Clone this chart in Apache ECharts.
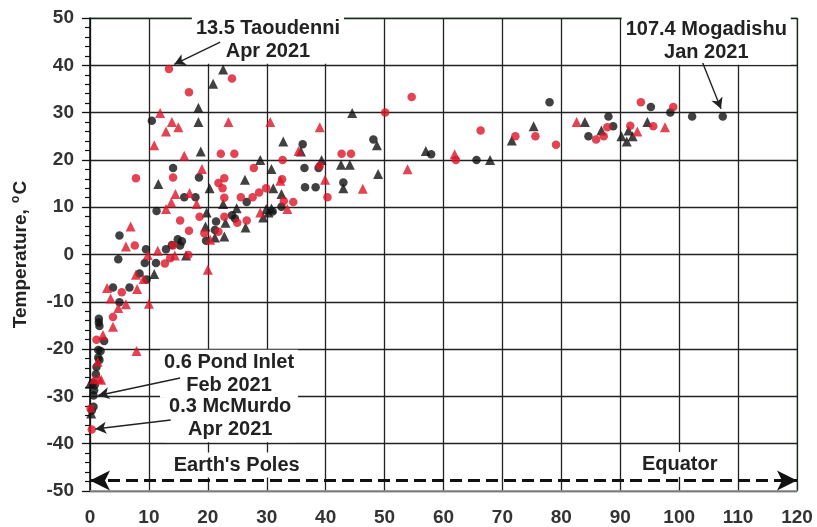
<!DOCTYPE html>
<html>
<head>
<meta charset="utf-8">
<script src="https://cdn.jsdelivr.net/npm/echarts@6/dist/echarts.min.js"></script>
<style>
html,body{margin:0;padding:0;background:#fff;}
#c{width:817px;height:527px;}
</style>
</head>
<body>
<div id="c"></div>
<script>
// ---- data (latitude offset, temperature) ----
const blackCircles = [
  [10.5,28.3],[36.1,23.3],[38.8,18.3],[36.4,18.3],[36.5,14.2],[38.3,14.2],[43.0,15.2],
  [14.1,18.3],[18.5,16.3],[26.6,11.1],[32.5,10.1],[16.0,12.1],[17.9,12.1],[11.3,9.2],
  [24.1,8.3],[24.6,7.6],[31.0,9.1],[21.4,7.0],[21.2,5.2],[19.7,2.9],[5.0,4.0],[9.5,1.1],
  [12.9,1.1],[13.9,2.0],[14.9,3.2],[15.3,1.9],[15.6,2.8],[4.8,-1.0],[9.3,-1.8],[11.2,-1.8],
  [8.4,-4.0],[9.6,-5.3],[3.9,-7.0],[6.7,-7.0],[5.0,-10.1],[1.5,-13.6],[1.5,-14.4],[1.6,-15.1],
  [2.4,-18.3],[1.4,-20.2],[1.8,-20.4],[1.4,-21.8],[1.6,-22.3],[1.1,-23.8],[1.0,-25.3],
  [0.5,-27.1],[0.8,-27.6],[0.7,-28.7],[0.6,-29.8],[0.6,-32.2],[0.3,-33.0],
  [48.1,24.3],[57.9,21.2],[65.6,20.0],[78.0,32.2],[84.6,25.0],[88.0,29.2],[88.8,27.1],
  [95.2,31.2],[98.5,30.0],[102.2,29.2],[107.4,29.2]
];
const blackTriangles = [
  [22.6,39.1],[20.9,36.1],[18.4,31.0],[18.4,28.0],[44.5,29.9],[32.8,23.9],[35.8,21.8],
  [18.8,21.8],[28.9,20.0],[39.3,20.0],[42.6,19.0],[44.1,19.0],[43.0,14.0],[11.6,14.9],
  [20.3,14.0],[26.3,15.8],[30.8,18.1],[31.1,14.0],[32.5,12.8],[19.8,8.9],[22.6,10.7],
  [24.9,9.8],[29.9,9.6],[30.8,9.7],[29.4,7.8],[30.3,8.9],[26.4,5.7],[23.0,6.7],[19.6,5.9],
  [21.2,3.6],[22.8,3.8],[16.3,-0.2],[10.9,-4.1],[0.0,-27.3],[0.2,-33.6],
  [48.9,17.0],[48.7,23.1],[57.0,21.9],[67.9,20.0],[71.6,24.1],[75.3,27.1],[84.0,28.0],
  [86.8,26.2],[90.2,25.0],[91.1,23.9],[91.4,26.2],[92.1,25.0],[94.6,28.0]
];
const redCircles = [
  [13.4,39.2],[24.1,37.2],[16.8,34.3],[22.2,21.3],[24.5,21.3],[32.7,20.0],[39.0,18.7],
  [42.7,21.3],[44.3,21.3],[14.1,16.3],[7.8,16.1],[22.8,16.1],[21.8,15.1],[22.5,14.0],
  [27.8,18.3],[32.6,15.9],[29.9,14.0],[28.7,13.1],[27.6,12.1],[25.6,12.1],[22.8,12.0],
  [32.9,11.3],[34.5,11.1],[40.3,12.1],[18.6,8.0],[22.8,8.0],[15.3,7.2],[25.0,6.7],[26.6,7.2],
  [19.4,4.5],[16.8,5.0],[21.8,4.8],[7.6,1.9],[14.1,1.9],[12.7,-1.9],[16.7,-0.1],[13.6,-0.8],
  [5.4,-8.0],[3.9,-13.2],[1.1,-18.0],[0.1,-32.6],[0.3,-37.0],
  [50.1,30.0],[54.6,33.3],[62.1,20.0],[66.3,26.2],[72.2,25.0],[75.6,25.0],[79.1,23.2],
  [85.9,24.3],[87.2,25.0],[87.8,26.9],[91.7,27.2],[93.5,32.2],[95.6,27.1],[99.0,31.2]
];
const redTriangles = [
  [11.9,29.9],[13.9,28.0],[23.5,28.0],[30.6,28.0],[15.0,26.9],[12.9,26.0],[39.0,26.9],
  [10.9,23.1],[35.4,21.9],[16.0,20.9],[19.0,18.1],[39.9,15.8],[32.3,15.6],[14.5,12.8],
  [16.9,13.0],[18.1,10.7],[13.8,11.0],[12.9,9.6],[28.9,8.9],[33.5,9.6],[6.9,5.9],[6.1,1.7],
  [11.5,0.8],[20.4,3.1],[14.4,-0.2],[9.8,-0.1],[20.0,-3.2],[9.1,-5.2],[7.8,-4.3],
  [2.9,-7.1],[8.0,-7.3],[3.5,-9.3],[6.1,-10.5],[10.0,-10.4],[4.8,-11.3],[3.9,-15.3],
  [2.2,-17.0],[7.9,-20.4],[1.3,-22.7],[1.5,-26.2],[1.9,-26.5],[0.7,-26.4],
  [46.3,13.9],[53.9,18.0],[61.9,21.2],[82.6,28.0],[92.9,26.0],[97.6,26.9]
];
const xMin = 0, xMax = 120, xStep = 10;
const yMin = -50, yMax = 50, yStep = 10;

// annotation texts (data coordinates)
const notes = [
  {text:'13.5 Taoudenni\nApr 2021', at:[30.2,45.4], from:[22.1,44.9], to:[14.3,40.2]},
  {text:'107.4 Mogadishu\nJan 2021', at:[104.6,45.2], from:[104.0,40.5], to:[107.1,30.8]},
  {text:'0.6 Pond Inlet\nFeb 2021', at:[23.6,-25.2], from:[15.3,-26.1], to:[1.4,-29.8]},
  {text:'0.3 McMurdo\nApr 2021', at:[23.8,-34.6], from:[13.7,-35.0], to:[0.9,-36.9]}
];
const sideLabels = [
  {text:"Earth's Poles", at:[24.9,-44.5]},
  {text:'Equator', at:[100.1,-44.4]}
];
const directionLineY = -47.8;

const RED = '#dc1428', BLACK = '#111';
const FONT = '"Liberation Sans", Arial, sans-serif';

const chart = echarts.init(document.getElementById('c'));

const arrowLines = notes.map(n => [
  {coord:n.from, symbol:'none'},
  {coord:n.to, symbol:'arrow'}
]);

chart.setOption({
  animation:false,
  backgroundColor:'#fff',
  grid:{left:90, right:20, top:18, bottom:34, show:true, borderColor:'#9fd3a9', borderWidth:1.5, backgroundColor:'#fff'},
  xAxis:{
    type:'value', min:xMin, max:xMax, interval:xStep,
    axisLine:{show:true, onZero:false, lineStyle:{color:'#999', width:1.5}},
    axisTick:{show:false},
    axisLabel:{margin:17, color:'#333', fontSize:19, fontWeight:'bold', fontFamily:FONT},
    splitLine:{show:true, lineStyle:{color:'#222', width:1.3}}
  },
  yAxis:{
    type:'value', min:yMin, max:yMax, interval:yStep,
    name:'Temperature, {o|o}C', nameLocation:'middle', nameGap:58,
    nameTextStyle:{color:'#222', fontSize:19, fontWeight:'bold', fontFamily:FONT,
      rich:{o:{fontSize:12, fontWeight:'bold', fontFamily:FONT, color:'#222', verticalAlign:'top', padding:[0,1,10,1]}}},
    axisLine:{show:true, onZero:false, lineStyle:{color:'#111', width:1.5}},
    axisTick:{show:true, length:8, lineStyle:{color:'#111', width:1.3}},
    minorTick:{show:true, splitNumber:5, length:5, lineStyle:{color:'#111', width:1.2}},
    axisLabel:{margin:16, color:'#333', fontSize:19, fontWeight:'bold', fontFamily:FONT},
    splitLine:{show:true, lineStyle:{color:'#222', width:1.3}}
  },
  series:[
    {type:'scatter', name:'bc', data:blackCircles, symbol:'circle', symbolSize:8.5, itemStyle:{color:BLACK}, z:3,
     markLine:{silent:true, animation:false, symbolSize:[9,11], label:{show:false},
       lineStyle:{color:'#222', width:1.4, type:'solid'}, data:arrowLines}},
    {type:'scatter', name:'bt', data:blackTriangles, symbol:'triangle', symbolSize:10, itemStyle:{color:BLACK}, z:3},
    {type:'scatter', name:'rc', data:redCircles, symbol:'circle', symbolSize:8.5, itemStyle:{color:RED}, z:3},
    {type:'scatter', name:'rt', data:redTriangles, symbol:'triangle', symbolSize:10, itemStyle:{color:RED}, z:3,
     markLine:{silent:true, animation:false, symbol:['arrow','arrow'], symbolSize:[15,20], label:{show:false},
       lineStyle:{color:'#111', width:3, type:[12,6]},
       data:[[{coord:[xMin,directionLineY]},{coord:[xMax,directionLineY]}]]}}
  ]
});

const px = p => chart.convertToPixel({gridIndex:0}, p);
const graphics = [];
notes.concat(sideLabels).forEach(n => {
  const p = px(n.at);
  graphics.push({
    type:'text', x:p[0], y:p[1], z:1,
    style:{text:n.text, fill:'#222', font:'bold 20px ' + FONT, align:'center', verticalAlign:'middle',
      lineHeight:23, backgroundColor:'#fff', padding:[1,4]}
  });
});
chart.setOption({graphic:graphics});
</script>
</body>
</html>
